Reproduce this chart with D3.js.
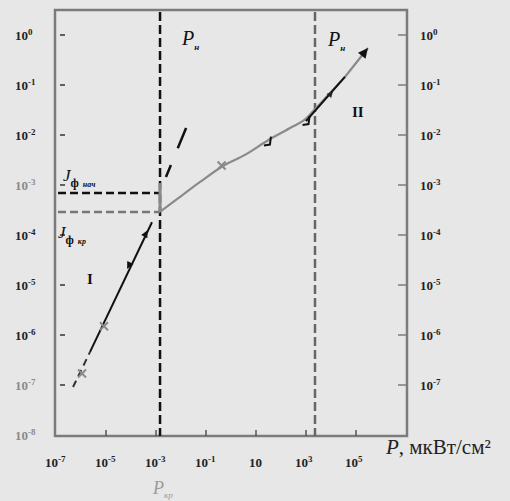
<!DOCTYPE html>
<html>
<head>
<meta charset="utf-8">
<script src="https://cdn.jsdelivr.net/npm/d3@7"></script>
<style>
  html, body { margin: 0; padding: 0; background: #e7e7e7; }
  svg { display: block; }
  text { font-family: "Liberation Serif", "DejaVu Serif", serif; }
</style>
</head>
<body>
<div id="chart"></div>
<script>
var WIDTH = 510, HEIGHT = 501;

// axis ticks
var xTicks = [1e-7, 1e-5, 1e-3, 1e-1, 10, 1e3, 1e5];
var xTickExp = ["-7", "-5", "-3", "-1", "", "3", "5"];
var yTicks = [1, 1e-1, 1e-2, 1e-3, 1e-4, 1e-5, 1e-6, 1e-7, 1e-8];
var yTickExp = ["0", "-1", "-2", "-3", "-4", "-5", "-6", "-7", "-8"];
var yTicksRight = [1, 1e-1, 1e-2, 1e-3, 1e-4, 1e-5, 1e-6, 1e-7];

// region I (photoconductivity rising linearly)
var curveIDashed = [[4.8e-7, 9.1e-8], [2.3e-6, 4.6e-7]];
var curveISolid = [[2.3e-6, 4.6e-7], [6.9e-4, 1.8e-4]];
// region II (gray curve above P_kr)
var curveII = [[1.45e-3, 2.9e-4], [6.9e-3, 5.2e-4], [5.8e-2, 1.15e-3], [0.48, 2.4e-3],
               [3.6, 4.0e-3], [27.5, 7.6e-3], [230, 1.38e-2], [1100, 2.2e-2], [2300, 3.2e-2]];
var curveIIUpper = [[912, 2.0e-2], [3.6e4, 0.145], [3.0e5, 0.55]];
var curveIIBlack = [[1000, 1.9e-2], [3.6e4, 0.145]];
// dashed extrapolation above P_kr
var extrap = [[2.5e-3, 1.45e-3], [1.6e-2, 1.38e-2]];
// critical levels and powers
var jNach = 6.9e-4, jKr = 2.9e-4;
var pKr = 1.45e-3, pN2 = 2290;
// small marks on curves
var crossMarks = [[8.3e-6, 1.5e-6], [1.1e-6, 1.7e-7], [0.42, 2.45e-3]];
var hookMarks = [[30, 7.4e-3], [1050, 1.9e-2]];

var svg = d3.select("#chart").append("svg")
    .attr("width", WIDTH)
    .attr("height", HEIGHT);

var x = d3.scaleLog().domain([1e-7, 1e7]).range([56, 406]);
var y = d3.scaleLog().domain([1e-8, 3.162]).range([435, 10]);

var FRAME = "#7b7b7b";

// frame
svg.append("rect")
    .attr("x", 55).attr("y", 10)
    .attr("width", 352).attr("height", 426)
    .attr("fill", "none")
    .attr("stroke", FRAME)
    .attr("stroke-width", 2.5);

// left ticks (inside, small dashes)
svg.append("g").selectAll("line")
    .data(yTicks.slice(0, 8))
    .join("line")
    .attr("x1", 60).attr("x2", 65)
    .attr("y1", function (d) { return y(d); })
    .attr("y2", function (d) { return y(d); })
    .attr("stroke", "#333").attr("stroke-width", 1.5);

// right ticks
svg.append("g").selectAll("line")
    .data(yTicksRight)
    .join("line")
    .attr("x1", 398).attr("x2", 407)
    .attr("y1", function (d) { return y(d); })
    .attr("y2", function (d) { return y(d); })
    .attr("stroke", FRAME).attr("stroke-width", 1.5);

// bottom ticks
svg.append("g").selectAll("line")
    .data(xTicks.slice(1))
    .join("line")
    .attr("x1", function (d) { return x(d); })
    .attr("x2", function (d) { return x(d); })
    .attr("y1", 430).attr("y2", 436)
    .attr("stroke", "#555").attr("stroke-width", 1.5);

function powerLabel(g, px, py, exp, color, anchor) {
    var t = g.append("text")
        .attr("x", px).attr("y", py)
        .attr("font-size", 13)
        .attr("font-weight", "bold")
        .attr("fill", color)
        .attr("text-anchor", anchor || "start")
        .text("10");
    if (exp !== "") {
        t.append("tspan")
            .attr("dy", -5)
            .attr("font-size", 9)
            .text(exp);
    }
}

var labels = svg.append("g");
yTicks.forEach(function (d, i) {
    var c = (i === 3 || i === 7 || i === 8) ? "#8a8a8a" : "#222";
    powerLabel(labels, 15, y(d) + 5, yTickExp[i], c);
});
yTicksRight.forEach(function (d, i) {
    powerLabel(labels, 420, y(d) + 5, yTickExp[i], "#222");
});
xTicks.forEach(function (d, i) {
    var px = x(d) - (xTickExp[i] === "" ? 7 : 11);
    powerLabel(labels, px, 467, xTickExp[i], "#222");
});

// axis title
var at = svg.append("text")
    .attr("x", 386).attr("y", 454)
    .attr("font-size", 21)
    .attr("fill", "#222");
at.append("tspan").attr("font-style", "italic").text("P");
at.append("tspan").text(", мкВт/см²");

// P_kr label under the axis
var pk = svg.append("text")
    .attr("x", 153).attr("y", 494)
    .attr("font-size", 18)
    .attr("fill", "#9a9a9a")
    .attr("font-style", "italic")
    .text("P");
pk.append("tspan").attr("dy", 4).attr("font-size", 9).text("кр");

// vertical dashed lines
svg.append("line")
    .attr("x1", x(pKr)).attr("x2", x(pKr))
    .attr("y1", 12).attr("y2", 436)
    .attr("stroke", "#111").attr("stroke-width", 2.5)
    .attr("stroke-dasharray", "9,4");
svg.append("line")
    .attr("x1", x(pN2)).attr("x2", x(pN2))
    .attr("y1", 12).attr("y2", 436)
    .attr("stroke", "#666").attr("stroke-width", 2.5)
    .attr("stroke-dasharray", "9,4");

// horizontal dashed lines
svg.append("line")
    .attr("x1", 58).attr("x2", x(pKr))
    .attr("y1", y(jNach)).attr("y2", y(jNach))
    .attr("stroke", "#111").attr("stroke-width", 2.5)
    .attr("stroke-dasharray", "8,4");
svg.append("line")
    .attr("x1", 58).attr("x2", x(pKr))
    .attr("y1", y(jKr)).attr("y2", y(jKr))
    .attr("stroke", "#777").attr("stroke-width", 2.5)
    .attr("stroke-dasharray", "8,4");
// vertical jump at P_kr
svg.append("line")
    .attr("x1", x(pKr)).attr("x2", x(pKr))
    .attr("y1", y(jNach) - 10).attr("y2", y(jKr))
    .attr("stroke", "#888").attr("stroke-width", 3);

// P_n labels
function pLabel(px, py) {
    var t = svg.append("text")
        .attr("x", px).attr("y", py)
        .attr("font-size", 20)
        .attr("font-style", "italic")
        .attr("fill", "#111")
        .text("P");
    t.append("tspan").attr("dy", 5).attr("font-size", 9).attr("font-weight", "bold").text("н");
}
pLabel(182, 45);
pLabel(328, 46);

// J labels
function jLabel(px, py, sub) {
    var t = svg.append("text")
        .attr("x", px).attr("y", py)
        .attr("font-size", 17)
        .attr("font-style", "italic")
        .attr("fill", "#111")
        .text("J");
    t.append("tspan").attr("dy", 6).attr("font-size", 12).attr("font-weight", "bold").attr("font-style", "normal").text("ф");
    t.append("tspan").attr("dx", 4).attr("font-size", 8).attr("font-weight", "bold").text(sub);
}
jLabel(63, 181, "нач");
jLabel(58, 238, "кр");

// region numerals
svg.append("text").attr("x", 87).attr("y", 284).attr("font-size", 15)
    .attr("font-weight", "bold").attr("fill", "#111").text("I");
svg.append("text").attr("x", 352).attr("y", 117).attr("font-size", 15)
    .attr("font-weight", "bold").attr("fill", "#111").text("II");

var line = d3.line()
    .x(function (d) { return x(d[0]); })
    .y(function (d) { return y(d[1]); });

svg.append("path")
    .attr("d", line(curveIDashed))
    .attr("fill", "none").attr("stroke", "#333").attr("stroke-width", 2)
    .attr("stroke-dasharray", "7,5");
svg.append("path")
    .attr("d", line(curveISolid))
    .attr("fill", "none").attr("stroke", "#111").attr("stroke-width", 2);

svg.append("path")
    .attr("d", line.curve(d3.curveMonotoneX)(curveII))
    .attr("fill", "none").attr("stroke", "#8a8a8a").attr("stroke-width", 2.2);
line.curve(d3.curveLinear);
svg.append("path")
    .attr("d", line(curveIIUpper))
    .attr("fill", "none").attr("stroke", "#8a8a8a").attr("stroke-width", 2.2);
svg.append("path")
    .attr("d", line(curveIIBlack))
    .attr("fill", "none").attr("stroke", "#111").attr("stroke-width", 2);

svg.append("path")
    .attr("d", line(extrap))
    .attr("fill", "none").attr("stroke", "#111").attr("stroke-width", 2.5)
    .attr("stroke-dasharray", "13,18,22");

// arrowheads
function arrow(p0, p1, size, color) {
    var ax = x(p1[0]), ay = y(p1[1]);
    var ang = Math.atan2(ay - y(p0[1]), ax - x(p0[0]));
    var pts = [[ax, ay],
        [ax - size * Math.cos(ang - 0.45), ay - size * Math.sin(ang - 0.45)],
        [ax - size * Math.cos(ang + 0.45), ay - size * Math.sin(ang + 0.45)]];
    svg.append("polygon")
        .attr("points", pts.map(function (p) { return p.join(","); }).join(" "))
        .attr("fill", color);
}
arrow(curveIIUpper[1], curveIIUpper[2], 11, "#111");
arrow([1.5e-4, 4.2e-5], [4.6e-4, 1.25e-4], 8, "#111");
arrow([2.0e-4, 6.0e-5], [7.0e-5, 2.1e-5], 8, "#111");
arrow([4000, 4.0e-2], [1.2e4, 7.5e-2], 7, "#222");

// gray crosses
svg.append("g").selectAll("path")
    .data(crossMarks)
    .join("path")
    .attr("d", function (d) {
        var cx = x(d[0]), cy = y(d[1]);
        return "M" + (cx - 4) + "," + (cy - 4) + "L" + (cx + 4) + "," + (cy + 4) +
            "M" + (cx - 4) + "," + (cy + 4) + "L" + (cx + 4) + "," + (cy - 4);
    })
    .attr("stroke", "#8a8a8a").attr("stroke-width", 2).attr("fill", "none");

// small black hooks
svg.append("g").selectAll("path")
    .data(hookMarks)
    .join("path")
    .attr("d", function (d) {
        var cx = x(d[0]), cy = y(d[1]);
        return "M" + (cx + 3) + "," + (cy - 5) + "L" + (cx + 2) + "," + (cy + 3) + "L" + (cx - 4) + "," + (cy + 4);
    })
    .attr("stroke", "#111").attr("stroke-width", 2).attr("fill", "none");
</script>
</body>
</html>
